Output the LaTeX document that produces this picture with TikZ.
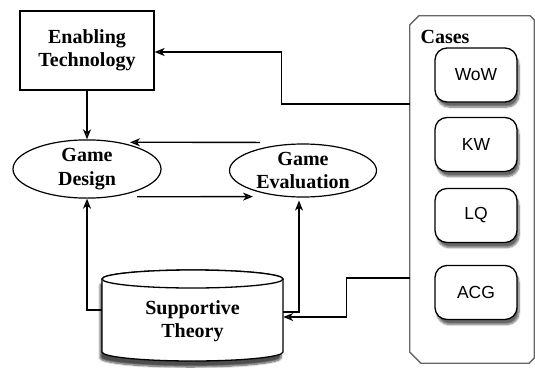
\documentclass[tikz,border=0pt]{standalone}
\usepackage{fontspec}
\setmainfont{Liberation Serif}
\newfontfamily\casefont{Liberation Sans}
\usetikzlibrary{arrows.meta,shapes.geometric,calc,shadows.blur}

\begin{document}
\begin{tikzpicture}[x=1pt,y=-1pt,
  every node/.style={font=\bfseries\fontsize{20}{23.5}\selectfont, align=center, inner sep=0pt},
  conn/.style={line width=1.3pt, -{Stealth[length=10pt,width=8pt,inset=3pt]}},
  techbox/.style={draw, line width=1.3pt, minimum width=134pt, minimum height=79pt},
  stage/.style={draw, ellipse, line width=1.2pt},
  casebox/.style={draw, line width=1.3pt, rounded corners=12pt,
    minimum width=82pt, minimum height=54pt, fill=white,
    font=\casefont\fontsize{17.5}{20}\selectfont,
    blur shadow={shadow xshift=2pt, shadow yshift=-5pt, shadow blur steps=8, shadow opacity=60}},
  panelline/.style={draw=black!60, line width=1.3pt},
  drum/.style={draw, line width=1.3pt, fill=white}
]
\useasboundingbox (0,0) rectangle (535,367);

% main blocks
\node[techbox] (et) at (87,50.5) {Enabling\\Technology};
\node[stage, minimum width=148pt, minimum height=58pt] (gd) at (87,169) {Game\\Design};
\node[stage, minimum width=147pt, minimum height=53pt] (ge) at (303,170.5) {Game\\Evaluation};

% supportive theory drum
\path[drum, blur shadow={shadow xshift=-2pt, shadow yshift=-6pt, shadow blur steps=8, shadow opacity=70}]
  (102,279) -- (102,352) arc[start angle=180, end angle=360, x radius=90.5pt, y radius=9pt]
  -- (283,279) arc[start angle=0, end angle=180, x radius=90.5pt, y radius=9pt] -- cycle;
\draw[drum] (192.5,279) ellipse[x radius=90.5pt, y radius=9pt];
\node[minimum width=181pt, minimum height=73pt] (st) at (192.5,321) {Supportive\\Theory};

% cases panel
\node[minimum width=124pt, minimum height=347pt] (cases) at (472,189.5) {};
\draw[panelline] ([yshift=-9pt]cases.north west) -- ([xshift=9pt]cases.north west)
  -- ([xshift=-4pt]cases.north east) -- ([yshift=-4pt]cases.north east)
  -- ([yshift=5pt]cases.south east) -- ([xshift=-5pt]cases.south east)
  -- ([xshift=11pt]cases.south west) -- ([yshift=11pt]cases.south west) -- cycle;
\node (casetitle) at (445,37) {Cases};
\node[casebox] (wow) at (476,75) {WoW};
\node[casebox] (kw) at (476,144.5) {KW};
\node[casebox] (lq) at (476,215.5) {LQ};
\node[casebox] (acg) at (476,292.5) {ACG};

% connectors
\draw[conn] ($(cases.west)+(0,-85.5)$) -- ++(-128,0) |- ([yshift=-1.5pt]et.east);
\draw[conn] (et.south) -- (gd.north);
\draw[conn] ($(ge.north)+(-43,-1)$) -- ($(gd.north)+(43,3)$);
\draw[conn] ($(gd.south)+(50,-2)$) -- ($(ge.south)+(-50,-1)$);
\draw[conn] ([yshift=11pt]st.west) -| (gd.south);
\draw[conn] ([yshift=9pt]st.east) -| ($(ge.south)+(-4,3)$);
\draw[conn] ($(cases.west)+(0,88.5)$) -- ++(-63,0) |- ([yshift=4pt]st.east);
\end{tikzpicture}
\end{document}
